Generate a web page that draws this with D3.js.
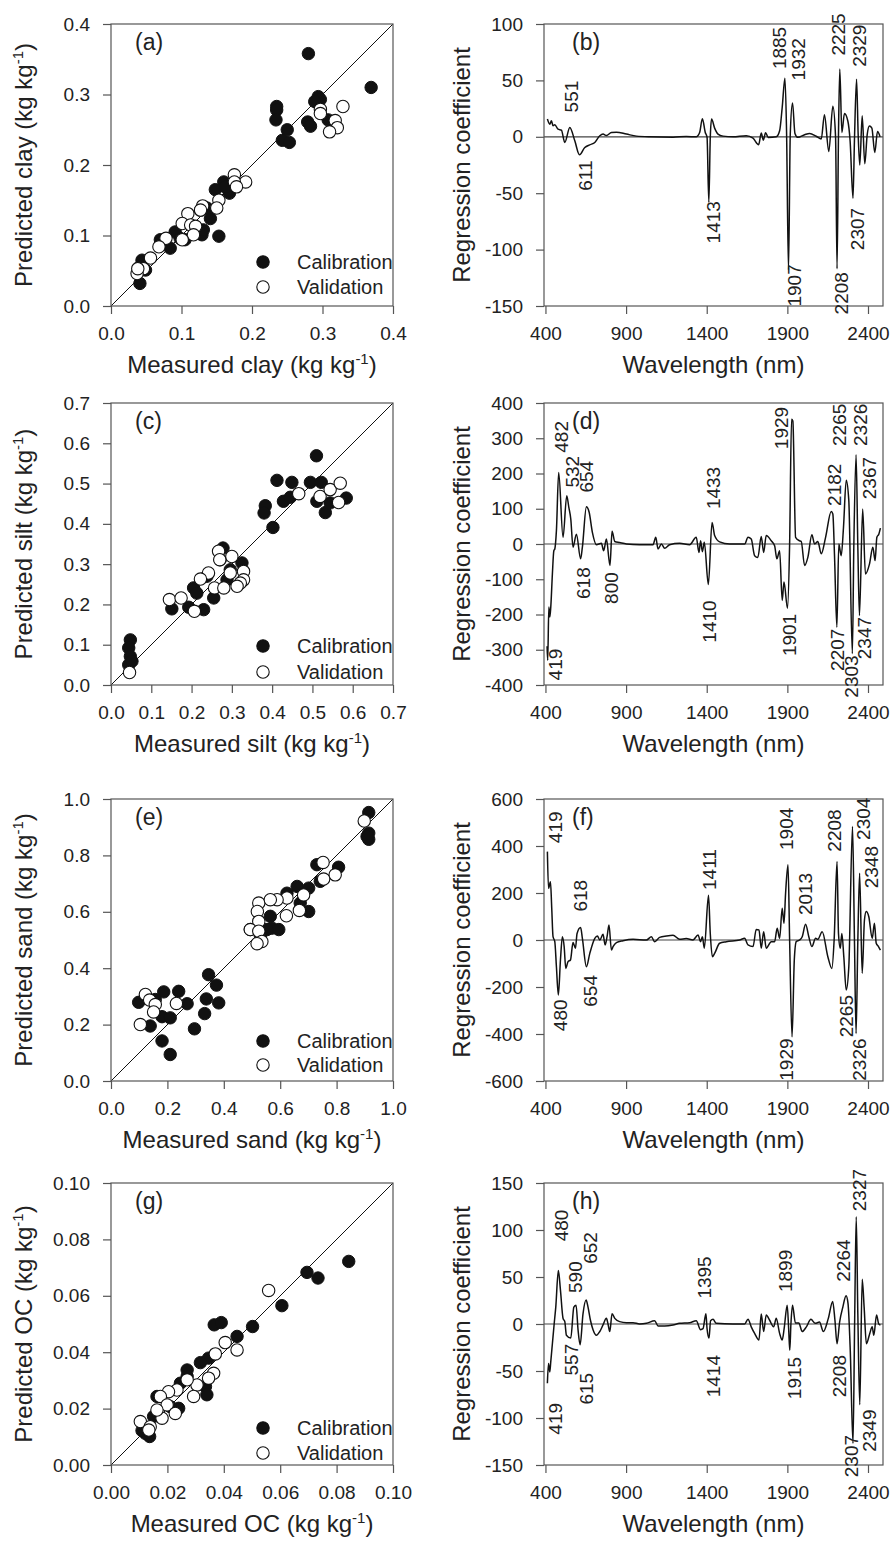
<!DOCTYPE html>
<html>
<head>
<meta charset="utf-8">
<script src="https://cdn.jsdelivr.net/npm/d3@7"></script>
<style>
  body { margin: 0; background: #fff; }
</style>
</head>
<body>
<div id="chart"></div>
<script>
// ---- scatter data: [measured, predicted] ----
const calClay = [[0.280,0.358],[0.369,0.310],[0.294,0.297],[0.297,0.293],[0.289,0.290],[0.235,0.283],[0.235,0.278],[0.234,0.264],[0.250,0.250],[0.243,0.235],[0.253,0.232],[0.279,0.261],[0.283,0.255],[0.308,0.264],[0.160,0.176],[0.148,0.165],[0.168,0.160],[0.162,0.169],[0.141,0.124],[0.153,0.099],[0.129,0.101],[0.131,0.108],[0.091,0.105],[0.084,0.082],[0.070,0.094],[0.098,0.096],[0.044,0.065],[0.041,0.056],[0.049,0.051],[0.041,0.032],[0.127,0.136],[0.136,0.139],[0.105,0.094]];
const valClay = [[0.329,0.283],[0.297,0.279],[0.318,0.263],[0.321,0.253],[0.310,0.247],[0.297,0.273],[0.191,0.176],[0.175,0.186],[0.175,0.176],[0.178,0.169],[0.153,0.150],[0.150,0.139],[0.130,0.142],[0.127,0.136],[0.109,0.131],[0.101,0.117],[0.113,0.115],[0.120,0.113],[0.117,0.101],[0.101,0.094],[0.078,0.096],[0.068,0.084],[0.056,0.068],[0.046,0.053],[0.037,0.046],[0.038,0.053]];

const calSilt = [[0.510,0.569],[0.412,0.508],[0.449,0.503],[0.495,0.503],[0.522,0.503],[0.428,0.456],[0.445,0.466],[0.511,0.456],[0.532,0.428],[0.544,0.452],[0.584,0.464],[0.383,0.445],[0.380,0.427],[0.402,0.391],[0.278,0.340],[0.271,0.311],[0.325,0.303],[0.296,0.286],[0.205,0.241],[0.213,0.228],[0.255,0.216],[0.230,0.187],[0.193,0.193],[0.151,0.189],[0.048,0.112],[0.044,0.092],[0.048,0.071],[0.044,0.050],[0.052,0.059],[0.238,0.270],[0.288,0.261]];
const valSilt = [[0.466,0.475],[0.519,0.468],[0.544,0.485],[0.569,0.501],[0.565,0.453],[0.267,0.332],[0.300,0.319],[0.270,0.311],[0.329,0.282],[0.329,0.261],[0.321,0.253],[0.296,0.278],[0.242,0.278],[0.222,0.263],[0.257,0.241],[0.280,0.241],[0.145,0.212],[0.174,0.216],[0.207,0.183],[0.046,0.031],[0.313,0.245]];

const calSand = [[0.914,0.952],[0.914,0.879],[0.914,0.857],[0.908,0.867],[0.730,0.767],[0.807,0.758],[0.742,0.708],[0.701,0.684],[0.660,0.690],[0.671,0.631],[0.624,0.666],[0.565,0.584],[0.571,0.542],[0.595,0.537],[0.530,0.513],[0.553,0.537],[0.346,0.377],[0.374,0.340],[0.338,0.291],[0.382,0.277],[0.332,0.239],[0.296,0.185],[0.270,0.274],[0.240,0.318],[0.187,0.316],[0.157,0.289],[0.098,0.279],[0.139,0.195],[0.181,0.228],[0.210,0.224],[0.181,0.142],[0.210,0.094],[0.494,0.537],[0.701,0.601]];
const valSand = [[0.898,0.922],[0.752,0.775],[0.795,0.731],[0.754,0.716],[0.683,0.660],[0.668,0.605],[0.624,0.649],[0.622,0.586],[0.589,0.643],[0.524,0.631],[0.519,0.601],[0.524,0.566],[0.494,0.537],[0.524,0.531],[0.535,0.495],[0.518,0.487],[0.565,0.643],[0.122,0.307],[0.137,0.287],[0.157,0.271],[0.151,0.245],[0.232,0.275],[0.104,0.200]];

const calOC = [[0.0843,0.0722],[0.0695,0.0683],[0.0734,0.0663],[0.0606,0.0565],[0.0502,0.0491],[0.0447,0.0456],[0.0366,0.0497],[0.0391,0.0505],[0.0346,0.0379],[0.0317,0.0363],[0.0270,0.0337],[0.0270,0.0314],[0.0335,0.0278],[0.0246,0.0290],[0.0240,0.0201],[0.0210,0.0207],[0.0151,0.0172],[0.0137,0.0101],[0.0122,0.0112],[0.0110,0.0122],[0.0163,0.0243],[0.0340,0.0249]];
const valOC = [[0.0559,0.0619],[0.0405,0.0434],[0.0447,0.0408],[0.0370,0.0394],[0.0364,0.0325],[0.0346,0.0308],[0.0305,0.0284],[0.0293,0.0243],[0.0234,0.0266],[0.0204,0.0260],[0.0175,0.0243],[0.0199,0.0213],[0.0228,0.0183],[0.0181,0.0166],[0.0163,0.0195],[0.0104,0.0154],[0.0139,0.0136],[0.0134,0.0124],[0.0270,0.0302]];

// ---- regression coefficient spectra: [wavelength nm, coefficient] ----
const specClay = [[412,15.7],[427,11.2],[437,14.2],[447,9.8],[458,10.7],[478,6.8],[499,5.9],[520,-5],[551,8.3],[582,-3.6],[611,-16],[644,-9.5],[675,-7.1],[706,-5],[737,0.9],[757,2.4],[778,1.2],[809,3.8],[840,4.1],[902,2.4],[964,0.6],[1046,0],[1191,-0.3],[1273,0.3],[1335,0],[1356,3.8],[1373,16],[1391,3.8],[1402,-0.6],[1413,-58],[1422,-0.6],[1430,15.7],[1449,7.7],[1470,2.4],[1501,0.6],[1563,0],[1645,0.9],[1687,-1.2],[1722,-7.1],[1738,3.3],[1751,-3],[1765,3.6],[1781,-0.6],[1831,0],[1852,5.3],[1868,26],[1885,52],[1895,5],[1907,-118],[1918,2.4],[1932,30],[1947,3],[1965,-0.5],[2007,1.8],[2038,3],[2079,0.5],[2110,-2],[2130,19.5],[2157,-13],[2182,27],[2199,-0.6],[2208,-117],[2217,2],[2225,60],[2238,3.8],[2254,20.7],[2275,14],[2289,-3.5],[2307,-54.5],[2316,-3],[2329,51],[2339,2],[2349,-25],[2364,18.6],[2380,-24],[2395,2],[2409,9.5],[2424,7.7],[2442,-14],[2459,4.7],[2475,0]];
const specSilt = [[410,-290],[414,-330],[421,-179],[427,-207],[433,-179],[443,-85],[452,-19],[458,-14],[468,38],[482,203],[509,19],[532,137],[545,104],[557,71],[571,-9],[592,28],[618,-42],[629,-9],[654,106],[671,90],[691,33],[716,-2],[747,2],[761,-19],[778,14],[800,-61],[813,36],[830,7],[860,4],[902,0],[984,-2],[1067,-2],[1084,19],[1098,-14],[1119,0],[1139,-12],[1170,-2],[1232,2],[1294,-2],[1335,19],[1352,-24],[1362,9],[1373,-22],[1385,5],[1410,-115],[1433,61],[1449,24],[1480,6],[1542,0],[1635,0],[1656,19],[1676,14],[1697,-33],[1717,-38],[1738,21],[1753,-24],[1769,24],[1800,9],[1821,-5],[1835,-42],[1852,-19],[1868,-160],[1879,-108],[1901,-182],[1914,0],[1926,354],[1934,349],[1951,19],[1976,9],[1986,7],[2007,-61],[2027,-38],[2052,26],[2069,0],[2089,7],[2110,-28],[2137,19],[2172,92],[2182,85],[2192,-28],[2207,-236],[2219,0],[2234,-33],[2248,47],[2265,181],[2281,123],[2303,-311],[2312,-9],[2326,253],[2337,-9],[2347,-203],[2367,99],[2384,-85],[2409,-57],[2430,-9],[2444,-47],[2455,19],[2467,28],[2477,45]];
const specSand = [[412,376],[419,220],[431,248],[439,135],[447,14],[458,-7],[468,-114],[480,-234],[493,-85],[505,14],[516,-28],[526,-121],[540,-92],[555,-85],[571,-11],[586,-35],[596,28],[618,53],[629,7],[654,-114],[675,-57],[706,7],[722,17],[737,0],[757,24],[770,-21],[782,14],[794,64],[809,-43],[819,-28],[840,-11],[881,-3],[943,3],[1026,0],[1057,14],[1077,-7],[1108,11],[1150,17],[1191,20],[1232,3],[1273,6],[1315,0],[1346,21],[1362,-7],[1373,14],[1385,-35],[1411,190],[1422,28],[1435,-71],[1449,-57],[1480,-14],[1521,-7],[1604,0],[1635,7],[1656,-21],[1687,-28],[1707,45],[1724,43],[1738,-35],[1753,35],[1769,-35],[1800,-7],[1821,-7],[1837,50],[1852,7],[1868,135],[1879,71],[1889,199],[1904,320],[1914,0],[1929,-412],[1943,-85],[1955,-7],[1976,0],[1992,14],[2013,67],[2033,14],[2052,-28],[2075,7],[2089,3],[2116,35],[2151,-71],[2176,-121],[2190,0],[2208,334],[2217,28],[2228,-35],[2238,28],[2250,-71],[2265,-213],[2281,-114],[2304,483],[2316,0],[2326,-398],[2337,0],[2348,284],[2364,-142],[2378,85],[2389,121],[2405,99],[2426,7],[2440,71],[2451,-14],[2465,-28],[2477,-43]];
const specOC = [[412,-63],[419,-42],[427,-51],[433,-40],[443,-21],[454,0],[464,18],[480,57],[493,36],[509,6],[520,2.5],[530,-12],[557,-15],[576,18],[590,20],[602,-6],[615,-22],[633,11],[652,25.5],[664,18],[679,4],[695,-6],[716,-12],[737,-8],[757,-1],[778,6],[788,0],[799,-8],[813,11],[830,6],[860,2.5],[902,1.4],[943,1.4],[984,0],[1026,0.7],[1077,3.5],[1098,-2],[1139,-2],[1191,-1],[1232,0.7],[1294,1.4],[1335,3.5],[1362,-6],[1377,-5],[1395,11],[1402,-5],[1414,-15],[1424,3.5],[1439,5],[1459,0.7],[1563,0],[1635,0],[1656,5],[1676,-3],[1697,-10],[1724,-17],[1738,10.6],[1753,-8],[1769,9.6],[1790,4],[1815,-3],[1831,6],[1852,-10],[1868,-17],[1880,-5],[1899,20],[1908,-5],[1915,-28],[1922,0],[1932,20],[1950,1],[1971,1],[1992,-8],[2018,-3],[2046,5],[2073,0.7],[2099,2],[2123,-8],[2154,6],[2181,24],[2195,4],[2208,-21],[2224,2],[2244,18],[2264,30],[2276,22],[2290,-28],[2307,-127],[2317,0],[2327,114],[2337,10],[2349,-86],[2364,47.5],[2376,18],[2390,-21],[2411,-10],[2426,-3],[2436,-12],[2453,9.6],[2467,0],[2477,-1]];

// ---- peak annotations: text, wavelength, coefficient at the label end, direction ----
const peaksClay = [["551",561,21.6,"up"],["611",644,-21,"down"],["1413",1439,-57,"down"],["1885",1848,60,"up"],["1932",1965,50,"up"],["1907",1945,-113,"down"],["2225",2213,72,"up"],["2329",2347,62,"up"],["2208",2234,-120,"down"],["2307",2331,-63,"down"]];
const peaksSilt = [["419",458,-297,"down"],["482",499,259,"up"],["532",568,160,"up"],["654",652,146,"up"],["618",633,-66,"down"],["800",805,-80,"down"],["1433",1439,99,"up"],["1410",1418,-160,"down"],["1929",1862,269,"up"],["1901",1914,-198,"down"],["2182",2188,108,"up"],["2265",2219,278,"up"],["2326",2353,278,"up"],["2367",2409,127,"up"],["2207",2209,-240,"down"],["2303",2296,-316,"down"],["2347",2378,-207,"down"]];
const peaksSand = [["419",458,412,"up"],["618",613,121,"up"],["480",489,-253,"down"],["654",679,-149,"down"],["1411",1418,213,"up"],["1904",1893,383,"up"],["2013",2013,106,"up"],["1929",1893,-419,"down"],["2208",2192,376,"up"],["2304",2368,426,"up"],["2348",2420,220,"up"],["2265",2265,-234,"down"],["2326",2347,-419,"down"]];
const peaksOC = [["480",499,88,"up"],["590",582,33,"up"],["652",675,64,"up"],["557",561,-21,"down"],["615",654,-52,"down"],["419",458,-84,"down"],["1395",1387,27,"up"],["1414",1439,-33,"down"],["1899",1889,34,"up"],["1915",1945,-35,"down"],["2264",2244,45,"up"],["2208",2223,-33,"down"],["2327",2347,120,"up"],["2307",2296,-118,"down"],["2349",2409,-91,"down"]];

// ---- ticks ----
const ticksClay = [0, 0.1, 0.2, 0.3, 0.4];
const ticksSilt = [0, 0.1, 0.2, 0.3, 0.4, 0.5, 0.6, 0.7];
const ticksSand = [0, 0.2, 0.4, 0.6, 0.8, 1.0];
const ticksOC = [0, 0.02, 0.04, 0.06, 0.08, 0.10];
const ticksWl = [400, 900, 1400, 1900, 2400];
const ticksCoefClay = [-150, -100, -50, 0, 50, 100];
const ticksCoefSilt = [-400, -300, -200, -100, 0, 100, 200, 300, 400];
const ticksCoefSand = [-600, -400, -200, 0, 200, 400, 600];
const ticksCoefOC = [-150, -100, -50, 0, 50, 100, 150];

const font = "'Liberation Sans', Arial, Helvetica, sans-serif";
const frameColor = "#555";
const textColor = "#222";

const rowTop = [24, 403, 799, 1183];
const size = 282;            // scatter plot square
const leftX = 111;
const rightX = 544, rightW = 339;

const plain = d => String(d);   // hyphen minus, no thousands separator

const svg = d3.select("#chart").append("svg")
  .attr("width", 891).attr("height", 1541)
  .style("font-family", font);

function styleAxis(ax) {
  ax.attr("font-size", 19).attr("font-family", font);
  ax.select(".domain").remove();
  ax.selectAll(".tick line").attr("stroke", frameColor).attr("stroke-width", 1.2);
  ax.selectAll(".tick text").attr("fill", textColor);
}

// text with an optional "-1" superscript before the closing bracket
function titleText(g, label, sup, x, y, rotate) {
  const t = g.append("text")
    .attr("text-anchor", "middle")
    .attr("fill", textColor)
    .attr("font-size", 24)
    .attr("transform", `translate(${x},${y})` + (rotate ? " rotate(-90)" : ""));
  if (sup) {
    t.append("tspan").text(label + " (kg kg");
    t.append("tspan").text("-1").attr("font-size", 15).attr("dy", -9);
    t.append("tspan").text(")").attr("dy", 9);
  } else {
    t.text(label);
  }
}

function frame(g, w, h) {
  g.append("rect").attr("width", w).attr("height", h)
    .attr("fill", "none").attr("stroke", frameColor).attr("stroke-width", 1.2);
}

function scatterPanel(p) {
  const g = svg.append("g").attr("transform", `translate(${leftX},${p.top})`);
  const max = p.ticks[p.ticks.length - 1];
  const x = d3.scaleLinear().domain([0, max]).range([0, size]);
  const y = d3.scaleLinear().domain([0, max]).range([size, 0]);

  g.append("g").attr("transform", `translate(0,${size})`)
    .call(d3.axisBottom(x).tickValues(p.ticks).tickFormat(d3.format(p.fmt)).tickSize(8).tickPadding(13))
    .call(styleAxis);
  g.append("g")
    .call(d3.axisLeft(y).tickValues(p.ticks).tickFormat(d3.format(p.fmt)).tickSize(8).tickPadding(13))
    .call(styleAxis);

  g.append("line")
    .attr("x1", x(0)).attr("y1", y(0)).attr("x2", x(max)).attr("y2", y(max))
    .attr("stroke", "#111").attr("stroke-width", 1);

  g.append("g").selectAll("circle").data(p.cal).join("circle")
    .attr("cx", d => x(d[0])).attr("cy", d => y(d[1])).attr("r", 6.2)
    .attr("fill", "#111").attr("stroke", "#111").attr("stroke-width", 1);
  g.append("g").selectAll("circle").data(p.val).join("circle")
    .attr("cx", d => x(d[0])).attr("cy", d => y(d[1])).attr("r", 6.2)
    .attr("fill", "#fff").attr("stroke", "#111").attr("stroke-width", 1.1);

  frame(g, size, size);

  // legend
  const lg = g.append("g").attr("font-size", 20).attr("fill", textColor);
  [["Calibration", "#111", p.leg[0]], ["Validation", "#fff", p.leg[1]]].forEach(([name, fill, off]) => {
    lg.append("circle").attr("cx", 152).attr("cy", size - off).attr("r", 6.2)
      .attr("fill", fill).attr("stroke", "#111").attr("stroke-width", 1.1);
    lg.append("text").attr("x", 186).attr("y", size - off).attr("dy", "0.35em")
      .attr("fill", textColor).text(name);
  });

  g.append("text").attr("x", 24).attr("y", 26).attr("font-size", 23)
    .attr("fill", textColor).text(p.id);

  titleText(g, "Measured " + p.name, true, size / 2, size + 67, false);
  titleText(g, "Predicted " + p.name, true, -79, size / 2, true);
}

function spectrumPanel(p) {
  const g = svg.append("g").attr("transform", `translate(${rightX},${p.top})`);
  const x = d3.scaleLinear().domain([391, 2493]).range([0, rightW]);
  const y = d3.scaleLinear().domain(d3.extent(p.yTicks)).range([size, 0]);

  g.append("g").attr("transform", `translate(0,${size})`)
    .call(d3.axisBottom(x).tickValues(ticksWl).tickFormat(plain).tickSize(8).tickPadding(13))
    .call(styleAxis);
  g.append("g")
    .call(d3.axisLeft(y).tickValues(p.yTicks).tickFormat(plain).tickSize(8).tickPadding(13))
    .call(styleAxis);

  g.append("line").attr("x1", 0).attr("x2", rightW).attr("y1", y(0)).attr("y2", y(0))
    .attr("stroke", "#444").attr("stroke-width", 1.2);

  const line = d3.line().x(d => x(d[0])).y(d => y(d[1])).curve(d3.curveMonotoneX);
  g.append("path").datum(p.spec).attr("d", line)
    .attr("fill", "none").attr("stroke", "#111").attr("stroke-width", 1.5)
    .attr("stroke-linejoin", "round");

  frame(g, rightW, size);

  g.append("g").attr("font-size", 19).selectAll("text").data(p.peaks).join("text")
    .attr("transform", d => `translate(${x(d[1])},${y(d[2])}) rotate(-90)`)
    .attr("text-anchor", d => d[3] === "up" ? "start" : "end")
    .attr("dy", "0.36em")
    .attr("fill", textColor)
    .text(d => d[0]);

  g.append("text").attr("x", 28).attr("y", 26).attr("font-size", 23)
    .attr("fill", textColor).text(p.id);

  titleText(g, "Wavelength (nm)", false, rightW / 2, size + 67, false);
  titleText(g, "Regression coefficient", false, -74, size / 2, true);
}

const scatterPanels = [
  { id: "(a)", top: rowTop[0], name: "clay", ticks: ticksClay, fmt: ".1f", cal: calClay, val: valClay, leg: [44, 19] },
  { id: "(c)", top: rowTop[1], name: "silt", ticks: ticksSilt, fmt: ".1f", cal: calSilt, val: valSilt, leg: [39, 13] },
  { id: "(e)", top: rowTop[2], name: "sand", ticks: ticksSand, fmt: ".1f", cal: calSand, val: valSand, leg: [40, 16] },
  { id: "(g)", top: rowTop[3], name: "OC", ticks: ticksOC, fmt: ".2f", cal: calOC, val: valOC, leg: [37, 12] }
];
const spectrumPanels = [
  { id: "(b)", top: rowTop[0], yTicks: ticksCoefClay, spec: specClay, peaks: peaksClay },
  { id: "(d)", top: rowTop[1], yTicks: ticksCoefSilt, spec: specSilt, peaks: peaksSilt },
  { id: "(f)", top: rowTop[2], yTicks: ticksCoefSand, spec: specSand, peaks: peaksSand },
  { id: "(h)", top: rowTop[3], yTicks: ticksCoefOC, spec: specOC, peaks: peaksOC }
];

scatterPanels.forEach(scatterPanel);
spectrumPanels.forEach(spectrumPanel);
</script>
</body>
</html>
